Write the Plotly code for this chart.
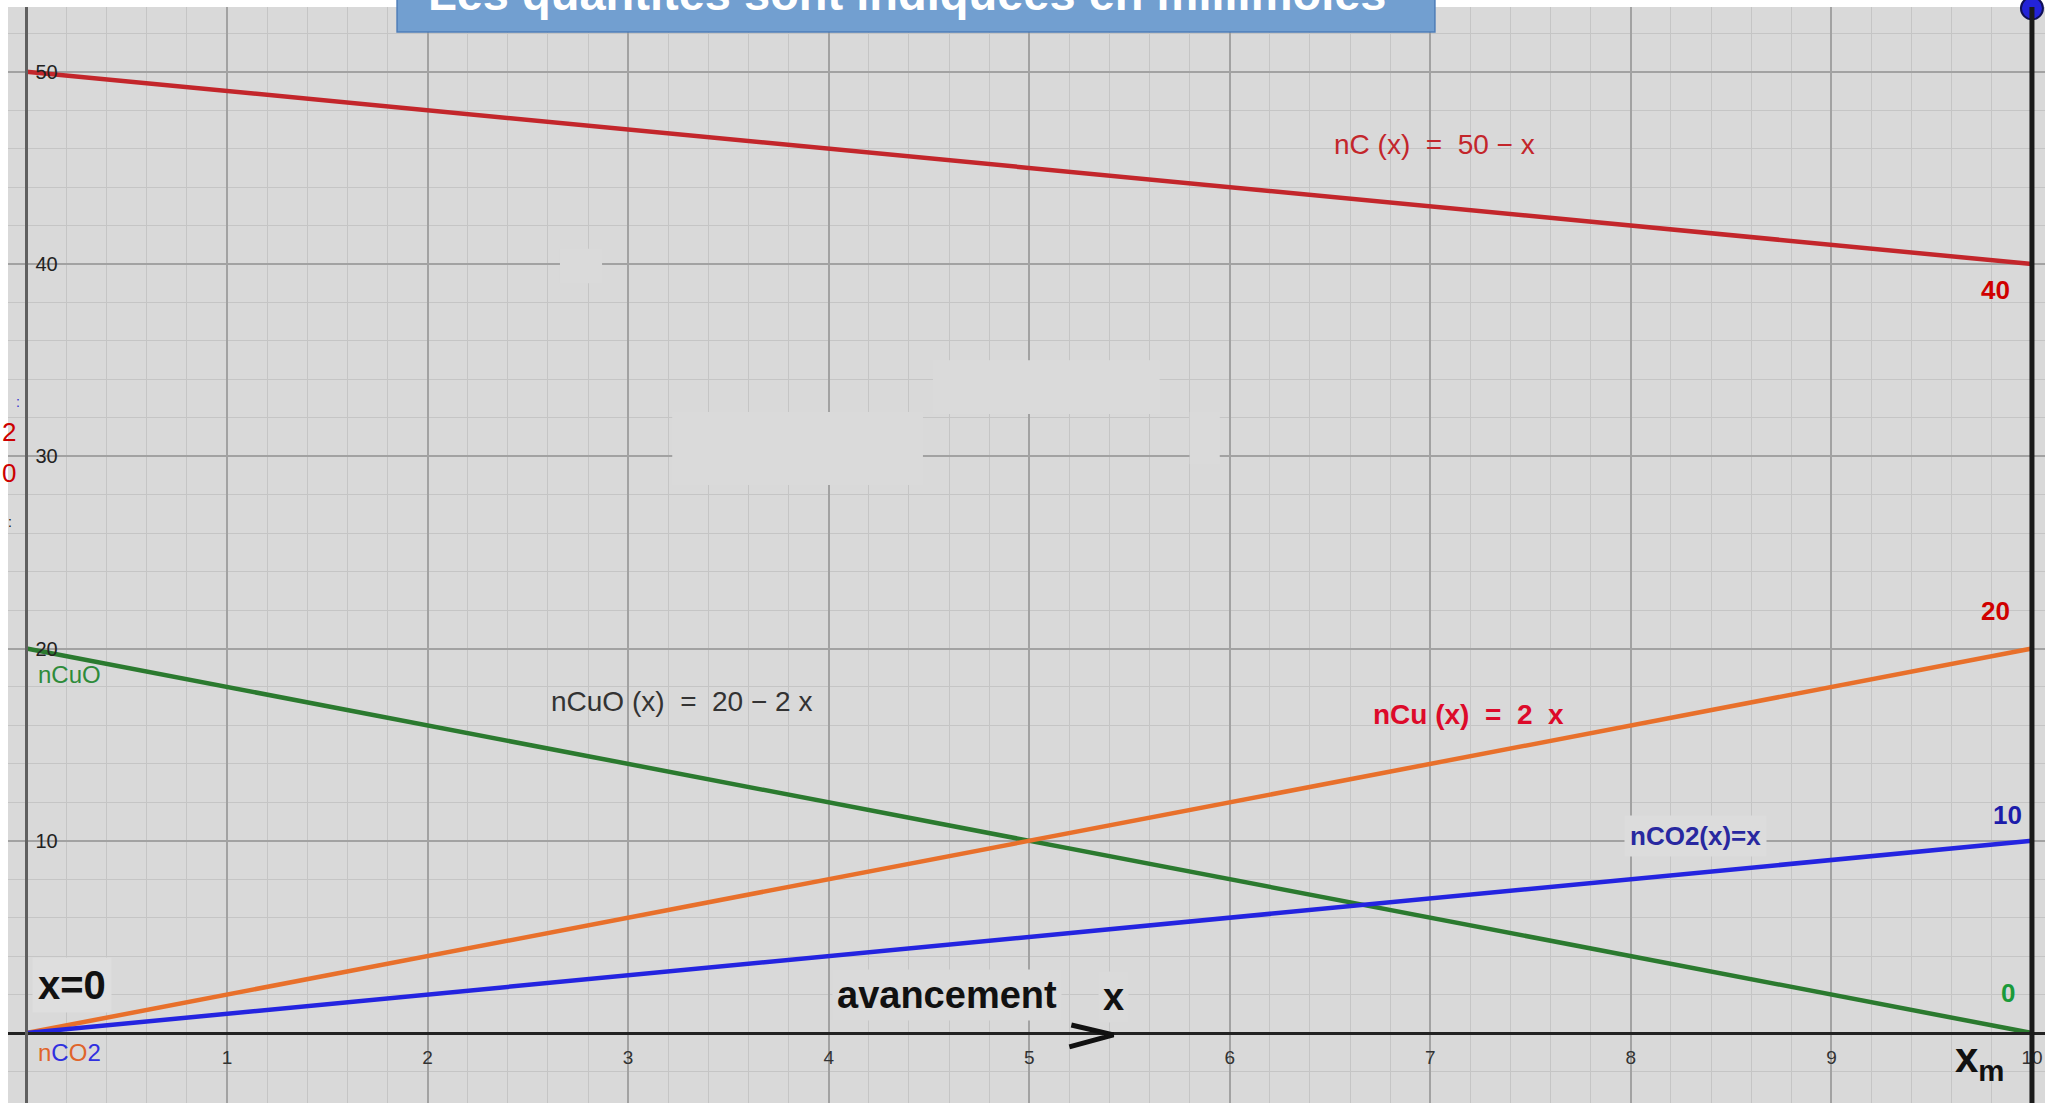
import plotly.graph_objects as go

# ---------------- data ----------------
x_adv = [0, 10]            # avancement x (mmol)
nC = [50, 40]              # nC(x) = 50 - x
nCuO = [20, 0]             # nCuO(x) = 20 - 2x
nCu = [0, 20]              # nCu(x) = 2x
nCO2 = [0, 10]             # nCO2(x) = x
x_max = 10                 # x_m
x_ticks = [1, 2, 3, 4, 5, 6, 7, 8, 9, 10]
y_ticks = [10, 20, 30, 40, 50]
final_values = [40, 20, 10, 0]   # nC, nCu, nCO2, nCuO at x_m

W, H = 2045, 1103
BG = "#d9d9d9"
RED = "#c3262b"
GREEN = "#2b7a2f"
ORANGE = "#e8702b"
BLUE = "#2424e0"
NARROW = "Liberation Sans Narrow, Liberation Sans, Arial, sans-serif"
SANS = "Liberation Sans, Arial, sans-serif"

fig = go.Figure()

series = [
    ("nC", nC, RED),
    ("nCuO", nCuO, GREEN),
    ("nCu", nCu, ORANGE),
    ("nCO2", nCO2, BLUE),
]
for name, ys, col in series:
    fig.add_trace(go.Scatter(x=x_adv, y=ys, mode="lines", name=name,
                             line=dict(color=col, width=4.5), hoverinfo="skip"))

# vertical line at x_m with blue point on top
fig.add_shape(type="line", xref="x", yref="paper", x0=x_max, x1=x_max, y0=0, y1=1,
              line=dict(color="#1a1a1a", width=5), layer="above")
fig.add_trace(go.Scatter(x=[x_max], y=[53.3], mode="markers", cliponaxis=False,
                         marker=dict(size=22, color="#2323d8", line=dict(color="#111155", width=2)),
                         hoverinfo="skip", showlegend=False))

# erased patches (slightly lighter, hide grid)
patches = [(2.66, 2.87, 39.0, 40.8), (3.22, 4.47, 28.5, 32.3), (4.52, 5.65, 32.2, 35.0),
           (5.80, 5.95, 29.6, 32.3)]
for x0, x1, y0, y1 in patches:
    fig.add_shape(type="rect", xref="x", yref="y", x0=x0, x1=x1, y0=y0, y1=y1,
                  fillcolor="#dadada", line=dict(width=0), layer="between")

# title box (cut at top)
fig.add_shape(type="rect", xref="paper", yref="paper", x0=0.191, x1=0.7005, y0=0.9772, y1=1.05,
              fillcolor="#729fd0", line=dict(color="#4d7db8", width=1.5), layer="above")

# hand-drawn ">" under "avancement x"
fig.add_shape(type="path", xref="x", yref="y",
              path="M 5.21,0.42 L 5.42,-0.10 L 5.20,-0.72",
              line=dict(color="#111111", width=5), layer="above")

ann = []
def A(text, x, y, size, color, font=NARROW, **kw):
    d = dict(text=text, x=x, y=y, xref="x", yref="y", showarrow=False,
             font=dict(size=size, color=color, family=font))
    d.update(kw)
    ann.append(d)

A("<b>Les quantités sont indiquées en millimoles</b>", 0.4413, 0.986, 47, "white", font=SANS,
  xref="paper", yref="paper", yanchor="bottom")
A("nC (x)  =  50 − x", 7.02, 46.24, 28, RED)
A("nCuO (x)  =  20 − 2 x", 3.264, 17.22, 28, "#333333")
A("<b>nCu (x)  =  2  x</b>", 7.19, 16.59, 28, "#dd0a2a")
A("<b>nCO2(x)=x</b>", 8.32, 10.25, 26, "#2828a0", bgcolor="#dcdcdc", borderpad=5)
A("nCuO", 0.212, 18.67, 24, "#2e8b3a", font=SANS)
A("<span style='color:#e0642a'>n</span><span style='color:#3030e0'>C</span>"
  "<span style='color:#e0642a'>O</span><span style='color:#3030e0'>2</span>",
  0.212, -0.99, 24, BLUE, font=SANS)
A("<b>x=0</b>", 0.227, 2.50, 40, "#111111", bgcolor="#dedede", borderpad=5)
A("<b>avancement</b>", 4.59, 1.98, 38, "#111111", bgcolor="#dadada", borderpad=4)
A("<b>x</b>", 5.42, 1.87, 38, "#111111", bgcolor="#dadada", borderpad=4)
A("<b>x<sub>m</sub></b>", 9.74, -1.45, 42, "#111111", font=SANS)
lab_cols = ["#d00000", "#d00000", "#1c1caa", "#1a9a3a"]
lab_pos = [(9.82, 38.65), (9.82, 21.95), (9.88, 11.34), (9.88, 2.08)]
for v, c, (px, py) in zip(final_values, lab_cols, lab_pos):
    A(f"<b>{v}</b>", px, py, 26, c)
# cut-off labels on the left edge
A("2", 0.005, 0.612, 26, "#cc0000", font=SANS, xref="paper", yref="paper", xanchor="right")
A("0", 0.005, 0.575, 26, "#cc0000", font=SANS, xref="paper", yref="paper", xanchor="right")
A(":", 0.005, 0.64, 14, "#3030d0", font=SANS, xref="paper", yref="paper", xanchor="center")
A(":", 0.001, 0.53, 14, "#111111", font=SANS, xref="paper", yref="paper", xanchor="center")

fig.update_layout(
    width=W, height=H,
    margin=dict(l=8, r=0, t=7, b=0),
    paper_bgcolor="white", plot_bgcolor=BG,
    showlegend=False,
    annotations=ann,
    xaxis=dict(range=[-0.0922, 10.065], anchor="free", position=0.06387,
               tickmode="array", tickvals=x_ticks, ticktext=[str(v) for v in x_ticks],
               showgrid=True, gridcolor="#a2a2a2", gridwidth=1.5,
               minor=dict(tickmode="linear", tick0=0, dtick=0.2, showgrid=True,
                          gridcolor="#c5c5c5", gridwidth=1),
               showline=True, linecolor="#222222", linewidth=3,
               zeroline=False, ticks="outside", ticklen=6, tickcolor="rgba(0,0,0,0)",
               tickfont=dict(size=19, color="#333333", family=SANS)),
    yaxis=dict(range=[-3.64, 53.37], anchor="free", position=0.00908,
               tickmode="array", tickvals=y_ticks, ticktext=[str(v) for v in y_ticks],
               ticklabelposition="inside", ticklabelstandoff=8,
               showgrid=True, gridcolor="#a2a2a2", gridwidth=1.5,
               minor=dict(tickmode="linear", tick0=0, dtick=2, showgrid=True,
                          gridcolor="#c5c5c5", gridwidth=1),
               showline=True, linecolor="#606060", linewidth=3,
               zeroline=False, ticks="",
               tickfont=dict(size=20, color="#222222", family=SANS)),
)

fig.write_html("out.html", config={"displayModeBar": False},
               post_script="document.body.style.margin='0';")
